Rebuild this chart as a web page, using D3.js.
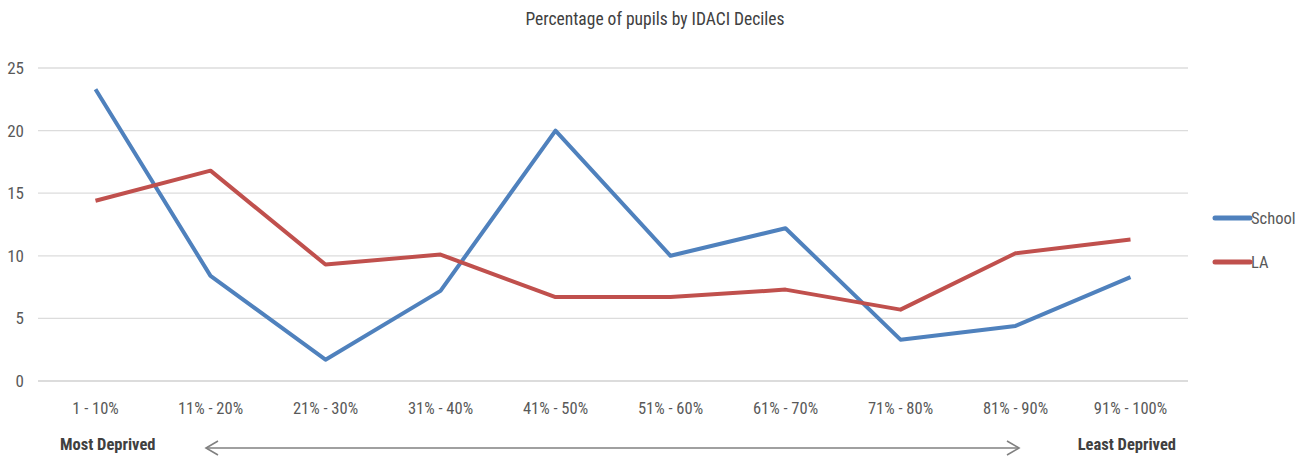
<!DOCTYPE html>
<html><head><meta charset="utf-8">
<script src="https://cdn.jsdelivr.net/npm/d3@7"></script>
<style>
body{margin:0;background:#fff;}
text{font-family:"Liberation Sans Narrow","Roboto Condensed","Liberation Sans",sans-serif;}
</style></head><body>
<svg id="c" width="1309" height="457"></svg>
<script>
const categories = ["1 - 10%","11% - 20%","21% - 30%","31% - 40%","41% - 50%","51% - 60%","61% - 70%","71% - 80%","81% - 90%","91% - 100%"];
const schoolValues = [23.3, 8.4, 1.7, 7.2, 20.0, 10.0, 12.2, 3.3, 4.4, 8.3];
const laValues = [14.4, 16.8, 9.3, 10.1, 6.7, 6.7, 7.3, 5.7, 10.2, 11.3];
const yTicks = [0, 5, 10, 15, 20, 25];
const seriesNames = ["School", "LA"];
const seriesColors = ["#4F81BD", "#C0504D"];

const svg = d3.select("#c");
const pLeft = 38, pRight = 1188, pTop = 68, pBottom = 381;
const x = d3.scaleBand().domain(categories).range([pLeft, pRight]);
const y = d3.scaleLinear().domain([0, 25]).range([pBottom, pTop]);

svg.append("text").attr("x", 655).attr("y", 25).attr("text-anchor", "middle")
  .attr("font-size", 17.5).attr("fill", "#404040").text("Percentage of pupils by IDACI Deciles");

// grid
svg.append("g").selectAll("line").data(yTicks).join("line")
  .attr("x1", pLeft).attr("x2", pRight).attr("y1", d => y(d)).attr("y2", d => y(d))
  .attr("stroke", d => d === 0 ? "#d0d0d0" : "#dcdcdc").attr("stroke-width", 1.3);

const yAxis = d3.axisLeft(y).tickValues(yTicks).tickSize(0).tickPadding(0);
const gy = svg.append("g").attr("transform", `translate(24,0)`).call(yAxis);
gy.select(".domain").remove();
gy.selectAll("text").attr("font-size", 17).attr("fill", "#595959").attr("text-anchor", "end");

const xAxis = d3.axisBottom(x).tickSize(0).tickPadding(0);
const gx = svg.append("g").attr("transform", `translate(0,${pBottom + 21})`).call(xAxis);
gx.select(".domain").remove();
gx.selectAll("text").attr("font-size", 16.5).attr("fill", "#595959").attr("dy", "0.71em");

const line = d3.line().x((d, i) => x(categories[i]) + x.bandwidth() / 2).y(d => y(d));
[schoolValues, laValues].forEach((vals, k) => {
  svg.append("path").datum(vals).attr("d", line).attr("fill", "none")
    .attr("stroke", seriesColors[k]).attr("stroke-width", 4).attr("stroke-linejoin", "round");
});

// legend
seriesNames.forEach((n, k) => {
  const ly = 218 + k * 44;
  svg.append("line").attr("x1", 1215).attr("x2", 1250).attr("y1", ly).attr("y2", ly)
    .attr("stroke", seriesColors[k]).attr("stroke-width", 5).attr("stroke-linecap", "round");
  svg.append("text").attr("x", 1251).attr("y", ly + 6).attr("font-size", 16.5).attr("fill", "#595959").text(n);
});

// bottom labels
svg.append("text").attr("x", 60).attr("y", 450).attr("font-size", 16.5).attr("font-weight", "bold").attr("fill", "#404040").text("Most Deprived");
svg.append("text").attr("x", 1176).attr("y", 450).attr("text-anchor", "end").attr("font-size", 16.5).attr("font-weight", "bold").attr("fill", "#404040").text("Least Deprived");
const ay = 448;
svg.append("line").attr("x1", 206).attr("x2", 1019).attr("y1", ay).attr("y2", ay).attr("stroke", "#808080").attr("stroke-width", 1.6);
svg.append("path").attr("d", `M218,${ay-7} L206,${ay} L218,${ay+7}`).attr("fill", "none").attr("stroke", "#808080").attr("stroke-width", 1.6);
svg.append("path").attr("d", `M1007,${ay-7} L1019,${ay} L1007,${ay+7}`).attr("fill", "none").attr("stroke", "#808080").attr("stroke-width", 1.6);
</script></body></html>
